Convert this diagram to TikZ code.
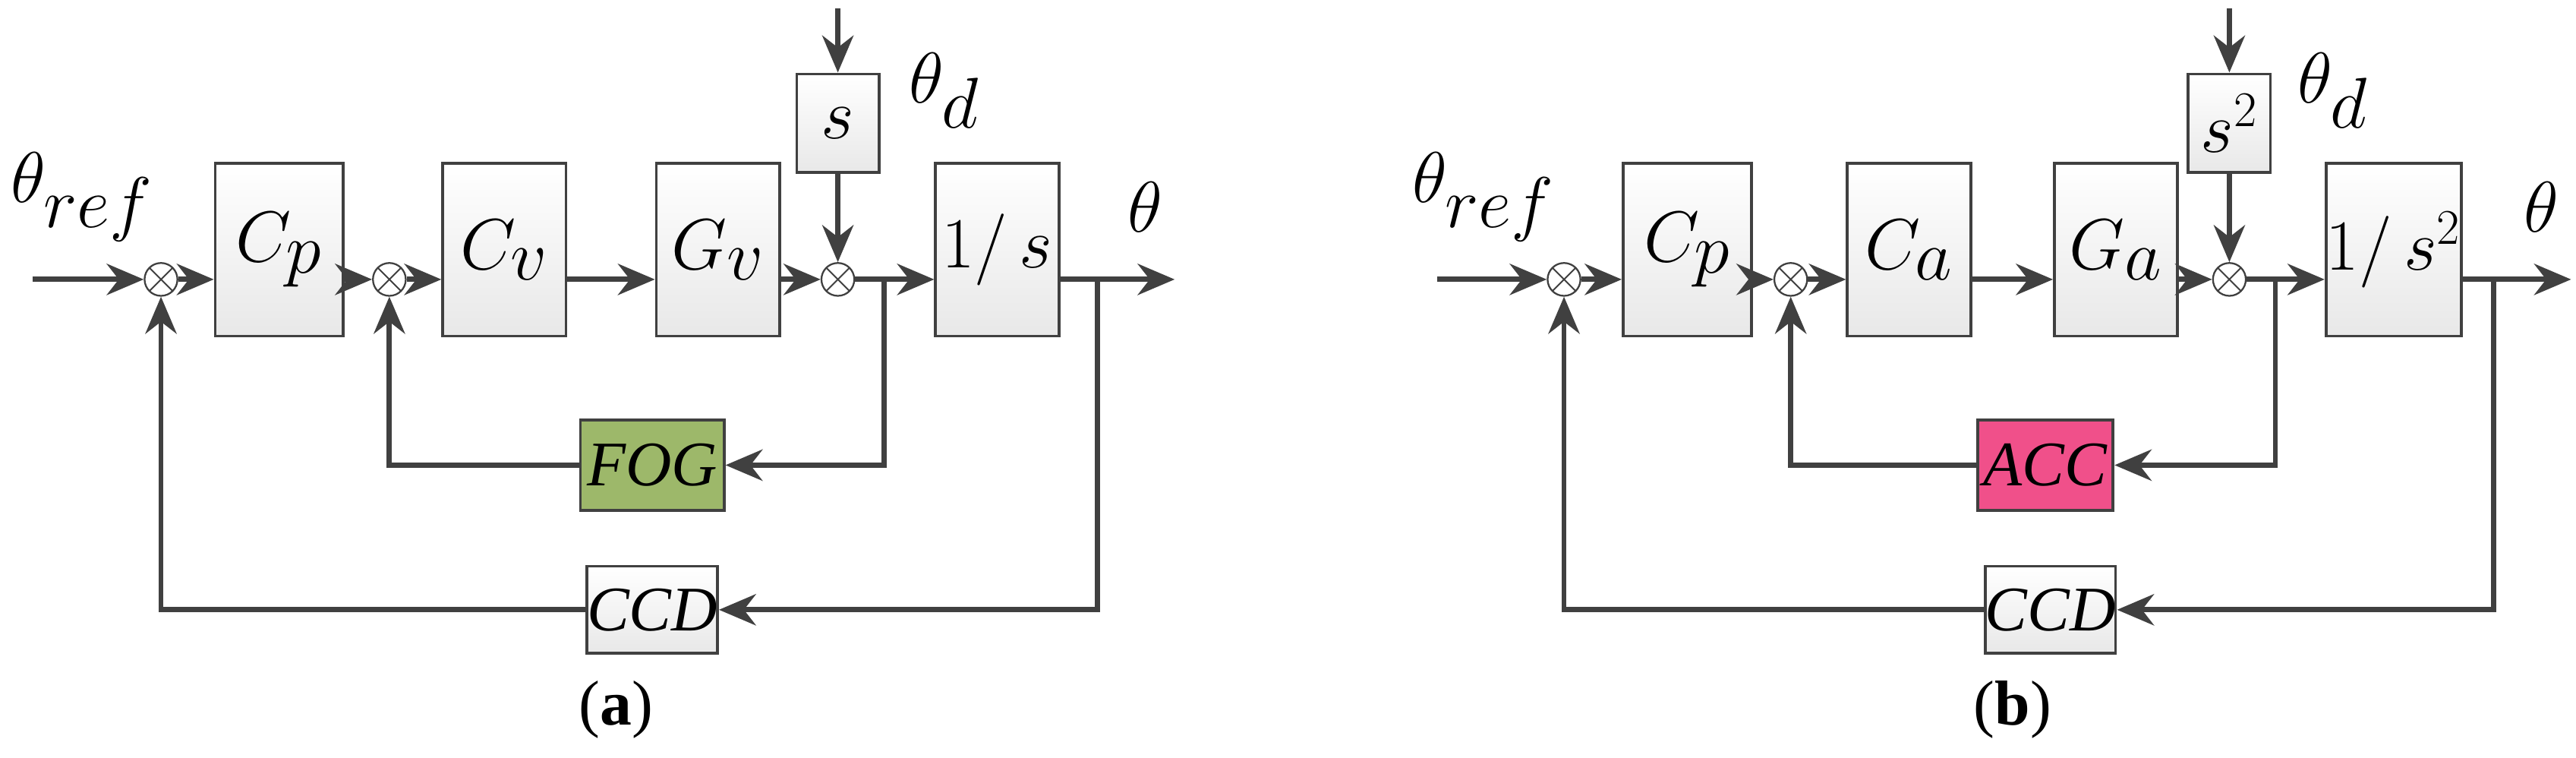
\documentclass[tikz,border=0pt]{standalone}
\usepackage{fontspec}
\setmainfont{Liberation Serif}
\usetikzlibrary{arrows.meta}
\definecolor{linegray}{HTML}{404040}
\definecolor{foggreen}{HTML}{9DB86A}
\definecolor{accpink}{HTML}{F0508A}
\tikzset{
  blk/.style={rectangle, draw=linegray, line width=1pt, top color=white, bottom color=gray!18, inner sep=0pt},
  sumj/.style={circle, draw=linegray, line width=0.6pt, fill=white, minimum size=0.4cm, inner sep=0pt,
    path picture={\draw[linegray, line width=0.5pt] (path picture bounding box.north west) -- (path picture bounding box.south east)
      (path picture bounding box.north east) -- (path picture bounding box.south west);}},
  sig/.style={draw=linegray, line width=1.8pt, -{Stealth[length=0.45cm, width=0.38cm]}},
  big/.style={font=\fontsize{40}{42}\selectfont},
  mid/.style={font=\fontsize{26}{28}\selectfont},
  sml/.style={font=\fontsize{22}{24}\selectfont},
  lab/.style={font=\fontsize{36}{38}\selectfont}
}
\begin{document}
\begin{tikzpicture}[x=0.02cm, y=-0.02cm]
\useasboundingbox (0,0) rectangle (1568,461);

% (a) velocity loop
\coordinate (inA) at (20,170);
\node[sumj] (sumA1) at (98,170) {};
\node[blk, minimum width=1.56cm, minimum height=2.1cm, big] (CpA) at (170,152) {$C_p$};
\node[sumj] (sumA2) at (237,170) {};
\node[blk, minimum width=1.5cm, minimum height=2.1cm, big] (CvA) at (307,152) {$C_v$};
\node[blk, minimum width=1.5cm, minimum height=2.1cm, big] (GvA) at (437,152) {$G_v$};
\node[sumj] (sumA3) at (510,170) {};
\node[blk, minimum width=1cm, minimum height=1.2cm, big] (sA) at (510,75) {$s$};
\coordinate (dA) at (510,5);
\node[blk, minimum width=1.5cm, minimum height=2.1cm, mid] (invA) at (607,152) {$1/\,s$};
\coordinate (outA) at (715,170);
\coordinate (brA1) at (538,170);
\coordinate (brA2) at (668,170);
\node[blk, top color=foggreen, bottom color=foggreen, minimum width=1.75cm, minimum height=1.1cm, sml] (FOG) at (397,283) {\itshape FOG};
\node[blk, minimum width=1.55cm, minimum height=1.06cm, sml] (CCDa) at (397,371) {\itshape CCD};
\node[lab] (refA) at (50,120) {$\theta_{ref}$};
\node[lab] (thdA) at (575,55) {$\theta_d$};
\node[lab] (thA) at (697,126) {$\theta$};
\node[font=\fontsize{22}{24}\selectfont] (capA) at (375,432) {(\textbf{a})};

\draw[sig] (inA) -- (sumA1);
\draw[sig] (sumA1) -- (CpA.west |- sumA1);
\draw[sig] (CpA.east |- sumA2) -- (sumA2);
\draw[sig] (sumA2) -- (CvA.west |- sumA2);
\draw[sig] (CvA.east |- sumA2) -- (GvA.west |- sumA2);
\draw[sig] (GvA.east |- sumA3) -- (sumA3);
\draw[sig] (dA) -- (sA);
\draw[sig] (sA) -- (sumA3);
\draw[sig] (sumA3) -- (invA.west |- sumA3);
\draw[sig] (invA.east |- sumA3) -- (outA);
\draw[sig] (brA1) |- (FOG);
\draw[sig] (FOG) -| (sumA2);
\draw[sig] (brA2) |- (CCDa);
\draw[sig] (CCDa) -| (sumA1);

% (b) acceleration loop
\coordinate (inB) at (875,170);
\node[sumj] (sumB1) at (952,170) {};
\node[blk, minimum width=1.56cm, minimum height=2.1cm, big] (CpB) at (1027,152) {$C_p$};
\node[sumj] (sumB2) at (1090,170) {};
\node[blk, minimum width=1.5cm, minimum height=2.1cm, big] (CaB) at (1162,152) {$C_a$};
\node[blk, minimum width=1.5cm, minimum height=2.1cm, big] (GaB) at (1288,152) {$G_a$};
\node[sumj] (sumB3) at (1357,170) {};
\node[blk, minimum width=1cm, minimum height=1.2cm, mid] (sB) at (1357,75) {$s^2$};
\coordinate (dB) at (1357,5);
\node[blk, minimum width=1.5cm, minimum height=2.1cm, mid] (invB) at (1457,152) {$1/\,s^2$};
\coordinate (outB) at (1565,170);
\coordinate (brB1) at (1385,170);
\coordinate (brB2) at (1518,170);
\node[blk, top color=accpink, bottom color=accpink, minimum width=1.65cm, minimum height=1.1cm, sml] (ACC) at (1245,283) {\itshape ACC};
\node[blk, minimum width=1.55cm, minimum height=1.06cm, sml] (CCDb) at (1248,371) {\itshape CCD};
\node[lab] (refB) at (903,120) {$\theta_{ref}$};
\node[lab] (thdB) at (1420,55) {$\theta_d$};
\node[lab] (thB) at (1547,126) {$\theta$};
\node[font=\fontsize{22}{24}\selectfont] (capB) at (1225,432) {(\textbf{b})};

\draw[sig] (inB) -- (sumB1);
\draw[sig] (sumB1) -- (CpB.west |- sumB1);
\draw[sig] (CpB.east |- sumB2) -- (sumB2);
\draw[sig] (sumB2) -- (CaB.west |- sumB2);
\draw[sig] (CaB.east |- sumB2) -- (GaB.west |- sumB2);
\draw[sig] (GaB.east |- sumB3) -- (sumB3);
\draw[sig] (dB) -- (sB);
\draw[sig] (sB) -- (sumB3);
\draw[sig] (sumB3) -- (invB.west |- sumB3);
\draw[sig] (invB.east |- sumB3) -- (outB);
\draw[sig] (brB1) |- (ACC);
\draw[sig] (ACC) -| (sumB2);
\draw[sig] (brB2) |- (CCDb);
\draw[sig] (CCDb) -| (sumB1);
\end{tikzpicture}
\end{document}
